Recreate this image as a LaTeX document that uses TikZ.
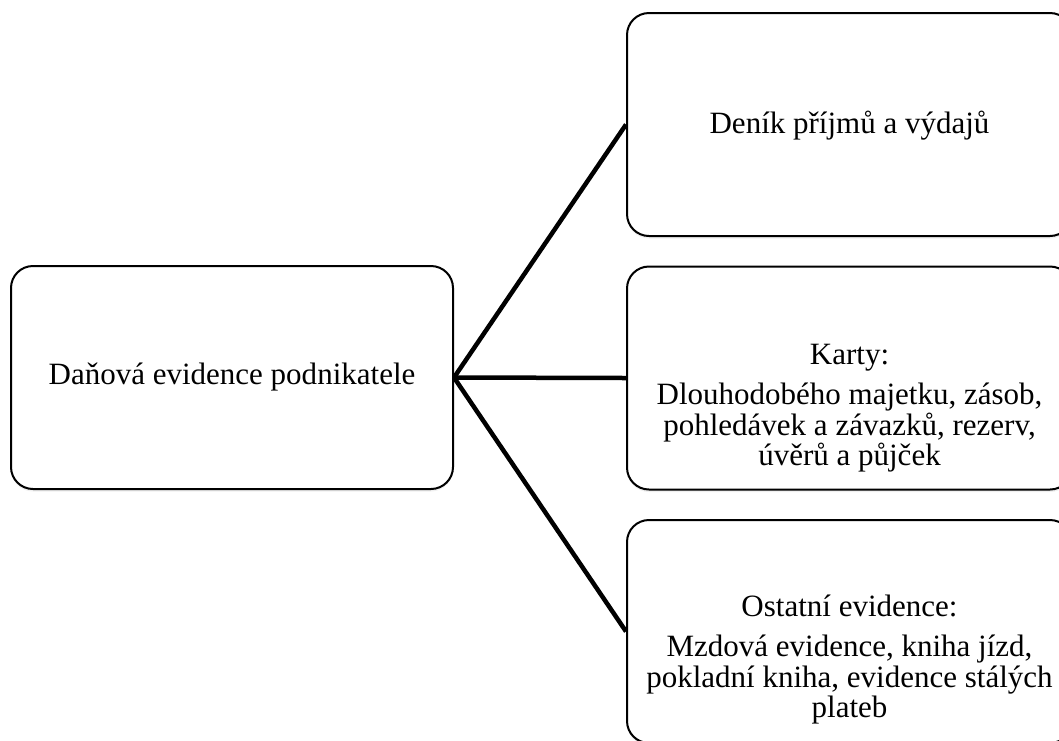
\documentclass[tikz,border=0pt]{standalone}
\usepackage{fontspec}
\setmainfont{Liberation Serif}
\usetikzlibrary{shadows}
\tikzset{
  box/.style={draw, line width=2pt, rounded corners=22pt, fill=white,
    minimum width=#1, minimum height=223pt, inner sep=0pt,
    drop shadow={opacity=0.12, shadow xshift=0pt, shadow yshift=-2.5pt}},
  txt/.style={align=center, inner sep=0pt, font=\fontsize{31pt}{30.5pt}\selectfont},
  spoj/.style={line width=4.5pt}
}
\begin{document}
\begin{tikzpicture}[x=1pt,y=-1pt]
\useasboundingbox (0,0) rectangle (1059,740);
\clip (0,0) rectangle (1059,740);
% boxy
\node[box=442pt] (dan) at (232,377.5) {};
\node[box=445pt] (denik) at (849.5,124.5) {};
\node[box=445pt] (karty) at (849.5,378) {};
\node[box=445pt] (ostatni) at (849.5,631.5) {};
% texty
\node[txt] (dantext) at (dan.center) {Daňová evidence podnikatele};
\node[txt] (deniktext) at ([yshift=-1pt]denik.center) {Deník příjmů a výdajů};
\node[txt] (kartytext) at ([yshift=-30pt]karty.center) {Karty:\\[10pt]
  Dlouhodobého majetku, zásob,\\ pohledávek a závazků, rezerv,\\ úvěrů a půjček};
\node[txt] (ostatnitext) at ([yshift=-28pt]ostatni.center) {Ostatní evidence:\\[10pt]
  Mzdová evidence, kniha jízd,\\ pokladní kniha, evidence stálých\\ plateb};
% spoje
\foreach \b in {denik,karty,ostatni}
  \draw[spoj] (dan.east) -- (\b.west);
\end{tikzpicture}
\end{document}
